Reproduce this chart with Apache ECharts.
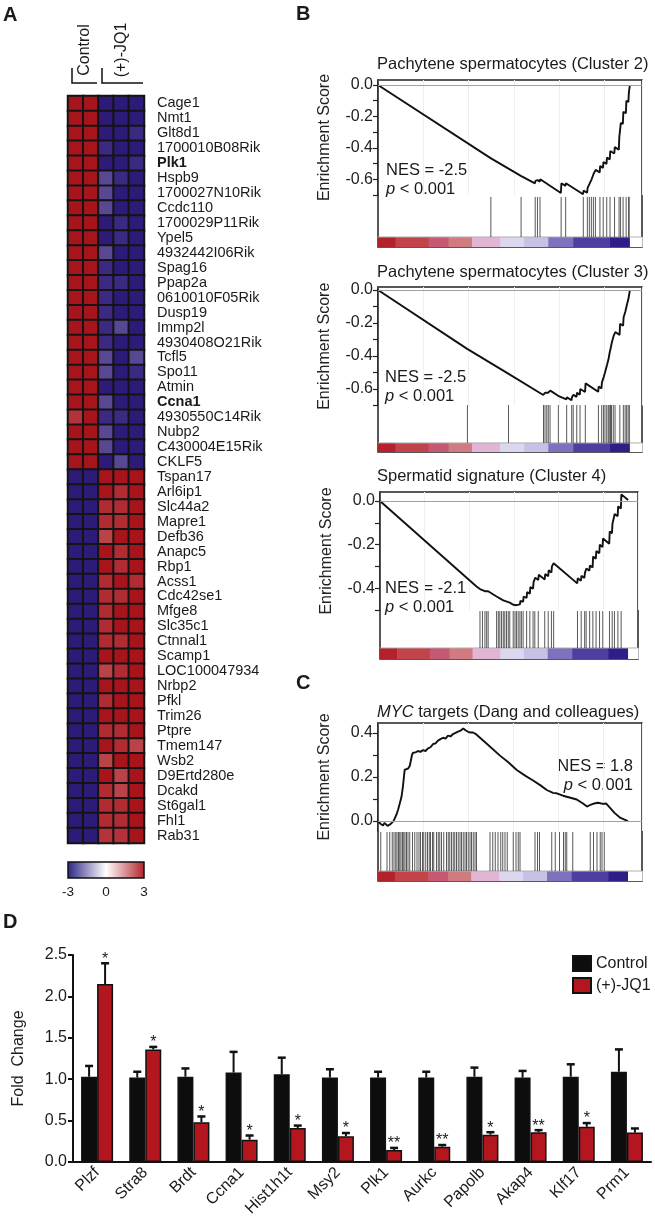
<!DOCTYPE html>
<html>
<head>
<meta charset="utf-8">
<script src="https://cdn.jsdelivr.net/npm/echarts@6/dist/echarts.min.js"></script>
<style>
html, body { margin: 0; padding: 0; background: #fff; }
#chart { width: 655px; height: 1225px; }
</style>
</head>
<body>
<div id="chart"></div>
<script>
// ---------- panel A: heatmap ----------
const genes = ['Cage1', 'Nmt1', 'Glt8d1', '1700010B08Rik', 'Plk1', 'Hspb9', '1700027N10Rik', 'Ccdc110',
  '1700029P11Rik', 'Ypel5', '4932442I06Rik', 'Spag16', 'Ppap2a', '0610010F05Rik', 'Dusp19', 'Immp2l',
  '4930408O21Rik', 'Tcfl5', 'Spo11', 'Atmin', 'Ccna1', '4930550C14Rik', 'Nubp2', 'C430004E15Rik', 'CKLF5',
  'Tspan17', 'Arl6ip1', 'Slc44a2', 'Mapre1', 'Defb36', 'Anapc5', 'Rbp1', 'Acss1', 'Cdc42se1', 'Mfge8',
  'Slc35c1', 'Ctnnal1', 'Scamp1', 'LOC100047934', 'Nrbp2', 'Pfkl', 'Trim26', 'Ptpre', 'Tmem147', 'Wsb2',
  'D9Ertd280e', 'Dcakd', 'St6gal1', 'Fhl1', 'Rab31']
const boldGenes = ['Plk1', 'Ccna1']
const sampleCols = ['Control 1', 'Control 2', 'JQ1 1', 'JQ1 2', 'JQ1 3']
const heatValues = [
  [3, 3, -3, -3, -3], [3, 3, -3, -3, -3], [3, 3, -3, -3, -2.8], [3, 3, -2.8, -3, -3],
  [3, 3, -3, -3, -2.8], [3, 3, -2.4, -2.8, -3], [3, 3, -2.4, -3, -3], [3, 3, -2.4, -3, -3],
  [3, 3, -3, -2.8, -3], [3, 3, -3, -2.8, -3], [3, 3, -2.4, -3, -3], [3, 3, -2.8, -3, -3],
  [3, 3, -2.8, -2.8, -3], [3, 3, -2.8, -3, -3], [3, 3, -2.8, -3, -3], [3, 3, -2.8, -2.4, -3],
  [3, 3, -2.8, -3, -3], [3, 3, -2.4, -3, -2.4], [3, 3, -2.4, -3, -2.8], [3, 3, -3, -3, -3],
  [3, 3, -2.4, -3, -3], [2.6, 3, -2.8, -2.8, -3], [3, 3, -2.4, -3, -3], [3, 3, -2.4, -3, -3],
  [3, 3, -3, -2.4, -3],
  [-3, -3, 3, 3, 3], [-3, -3, 3, 2.7, 3], [-3, -3, 2.7, 2.7, 3], [-3, -3, 2.7, 2.7, 3],
  [-3, -3, 2.4, 3, 3], [-3, -3, 3, 2.7, 3], [-3, -3, 3, 2.7, 3], [-3, -3, 2.7, 3, 2.7],
  [-3, -3, 2.7, 2.7, 3], [-3, -3, 2.7, 3, 3], [-3, -3, 2.7, 3, 3], [-3, -3, 2.7, 2.7, 3],
  [-3, -3, 3, 3, 3], [-3, -3, 2.4, 2.7, 3], [-3, -3, 3, 3, 3], [-3, -3, 2.7, 3, 3],
  [-3, -3, 3, 3, 3], [-3, -3, 2.7, 2.7, 3], [-3, -3, 3, 2.7, 2.4], [-3, -3, 2.4, 3, 3],
  [-3, -3, 3, 2.4, 3], [-3, -3, 2.7, 2.4, 3], [-3, -3, 2.7, 2.7, 3], [-3, -3, 2.7, 2.7, 3],
  [-3, -3, 2.6, 2.6, 3]
]
const heatTicks = ['-3', '0', '3']

// ---------- panels B / C: running enrichment scores [rank fraction, ES] ----------
const esCluster2 = [[0, 0], [0.447, -0.465], [0.449, -0.455], [0.567, -0.578], [0.569, -0.568],
  [0.623, -0.626], [0.625, -0.610], [0.632, -0.619], [0.634, -0.605], [0.642, -0.615], [0.644, -0.600],
  [0.726, -0.687], [0.728, -0.625], [0.744, -0.642], [0.746, -0.625], [0.814, -0.695], [0.816, -0.672],
  [0.830, -0.686], [0.832, -0.655], [0.838, -0.662], [0.840, -0.628], [0.846, -0.634], [0.848, -0.600],
  [0.854, -0.606], [0.856, -0.565], [0.862, -0.572], [0.864, -0.540], [0.880, -0.556], [0.882, -0.515],
  [0.893, -0.528], [0.895, -0.490], [0.907, -0.502], [0.909, -0.462], [0.920, -0.474], [0.922, -0.420],
  [0.938, -0.436], [0.940, -0.395], [0.956, -0.412], [0.958, -0.330], [0.962, -0.334], [0.964, -0.240],
  [0.972, -0.248], [0.974, -0.170], [0.984, -0.180], [0.986, -0.100], [0.994, -0.108], [0.996, -0.045],
  [0.998, -0.048], [1.0, 0.0]]
const hitsCluster2 = [0.448, 0.568, 0.624, 0.633, 0.643, 0.727, 0.745, 0.815, 0.831, 0.839, 0.847, 0.855,
  0.863, 0.881, 0.894, 0.908, 0.921, 0.939, 0.957, 0.963, 0.973, 0.985, 0.995, 0.997]

const esCluster3 = [[0, 0], [0.354, -0.357], [0.356, -0.345], [0.517, -0.507], [0.519, -0.498],
  [0.656, -0.636], [0.658, -0.628], [0.662, -0.632], [0.664, -0.622], [0.669, -0.627], [0.671, -0.618],
  [0.675, -0.623], [0.677, -0.614], [0.682, -0.619], [0.684, -0.610], [0.715, -0.641], [0.717, -0.630],
  [0.748, -0.663], [0.750, -0.650], [0.768, -0.668], [0.770, -0.650], [0.774, -0.655], [0.776, -0.635],
  [0.788, -0.648], [0.790, -0.622], [0.801, -0.635], [0.803, -0.600], [0.822, -0.618], [0.824, -0.566],
  [0.874, -0.617], [0.876, -0.585], [0.887, -0.596], [0.889, -0.560], [0.894, -0.566], [0.896, -0.528],
  [0.900, -0.532], [0.902, -0.495], [0.907, -0.500], [0.909, -0.455], [0.913, -0.459], [0.915, -0.420],
  [0.917, -0.423], [0.919, -0.385], [0.922, -0.389], [0.924, -0.350], [0.926, -0.353], [0.928, -0.320],
  [0.933, -0.325], [0.935, -0.280], [0.940, -0.286], [0.942, -0.255], [0.959, -0.272], [0.961, -0.205],
  [0.973, -0.217], [0.975, -0.165], [0.980, -0.170], [0.982, -0.130], [0.986, -0.134], [0.988, -0.090],
  [0.992, -0.094], [0.994, -0.055], [0.997, -0.058], [1.0, 0.0]]
const hitsCluster3 = [0.355, 0.518, 0.657, 0.663, 0.670, 0.676, 0.683, 0.716, 0.749, 0.769, 0.775, 0.789,
  0.802, 0.823, 0.875, 0.888, 0.895, 0.901, 0.908, 0.914, 0.918, 0.923, 0.927, 0.934, 0.941, 0.960, 0.974,
  0.981, 0.987, 0.993, 0.998]

const esCluster4 = [[0, 0], [0.389, -0.392], [0.403, -0.404], [0.405, -0.398], [0.423, -0.414],
  [0.425, -0.405], [0.436, -0.414], [0.438, -0.408], [0.470, -0.438], [0.497, -0.456], [0.523, -0.466],
  [0.537, -0.476], [0.550, -0.478], [0.557, -0.470], [0.564, -0.474], [0.566, -0.458], [0.577, -0.462],
  [0.579, -0.438], [0.591, -0.445], [0.593, -0.418], [0.604, -0.425], [0.606, -0.395], [0.617, -0.402],
  [0.619, -0.372], [0.624, -0.376], [0.626, -0.352], [0.638, -0.362], [0.640, -0.338], [0.664, -0.360],
  [0.666, -0.335], [0.678, -0.345], [0.680, -0.318], [0.691, -0.328], [0.693, -0.300], [0.698, -0.304],
  [0.700, -0.286], [0.795, -0.378], [0.797, -0.355], [0.810, -0.366], [0.812, -0.343], [0.824, -0.353],
  [0.826, -0.330], [0.830, -0.333], [0.832, -0.310], [0.844, -0.320], [0.846, -0.296], [0.857, -0.305],
  [0.859, -0.255], [0.870, -0.265], [0.872, -0.230], [0.884, -0.240], [0.886, -0.200], [0.897, -0.212],
  [0.899, -0.172], [0.924, -0.196], [0.926, -0.140], [0.935, -0.148], [0.937, -0.105], [0.944, -0.112],
  [0.946, -0.060], [0.958, -0.070], [0.960, -0.025], [0.971, -0.035], [0.973, 0.030], [1.0, 0.004]]
const hitsCluster4 = [0.403, 0.413, 0.423, 0.430, 0.436, 0.470, 0.477, 0.483, 0.490, 0.497, 0.503, 0.510,
  0.517, 0.523, 0.537, 0.544, 0.550, 0.557, 0.564, 0.570, 0.577, 0.591, 0.604, 0.617, 0.624, 0.638, 0.664,
  0.678, 0.691, 0.700, 0.796, 0.811, 0.825, 0.831, 0.845, 0.858, 0.871, 0.885, 0.898, 0.925, 0.936, 0.945,
  0.959, 0.972]

const esMyc = [[0, 0], [0.010, -0.012], [0.020, -0.020], [0.026, -0.008], [0.031, -0.010], [0.038, -0.022],
  [0.044, -0.028], [0.050, -0.014], [0.057, -0.018], [0.062, 0.000], [0.067, 0.012], [0.074, 0.030],
  [0.080, 0.050], [0.087, 0.080], [0.094, 0.110], [0.100, 0.160], [0.105, 0.215], [0.107, 0.233],
  [0.114, 0.240], [0.120, 0.238], [0.127, 0.250], [0.132, 0.258], [0.136, 0.300], [0.140, 0.310],
  [0.150, 0.312], [0.160, 0.318], [0.170, 0.314], [0.180, 0.322], [0.190, 0.318], [0.200, 0.330],
  [0.210, 0.335], [0.221, 0.350], [0.230, 0.352], [0.240, 0.365], [0.250, 0.372], [0.260, 0.378],
  [0.270, 0.374], [0.280, 0.388], [0.290, 0.384], [0.300, 0.395], [0.310, 0.400], [0.320, 0.406],
  [0.330, 0.410], [0.341, 0.420], [0.350, 0.412], [0.360, 0.405], [0.370, 0.402], [0.380, 0.402],
  [0.390, 0.396], [0.434, 0.352], [0.488, 0.297], [0.520, 0.268], [0.555, 0.232], [0.590, 0.205],
  [0.622, 0.183], [0.650, 0.162], [0.675, 0.141], [0.700, 0.128], [0.715, 0.126], [0.740, 0.115],
  [0.770, 0.106], [0.795, 0.098], [0.820, 0.080], [0.836, 0.066], [0.850, 0.074], [0.865, 0.080],
  [0.880, 0.083], [0.900, 0.078], [0.912, 0.080], [0.930, 0.058], [0.947, 0.036], [0.970, 0.014], [1.0, 0.0]]
const hitsMyc = [0.011, 0.036, 0.047, 0.057, 0.064, 0.071, 0.076, 0.082, 0.087, 0.092, 0.098, 0.103, 0.108,
  0.114, 0.120, 0.127, 0.138, 0.147, 0.156, 0.164, 0.170, 0.178, 0.183, 0.191, 0.198, 0.205, 0.210, 0.218,
  0.223, 0.234, 0.241, 0.247, 0.254, 0.263, 0.274, 0.281, 0.287, 0.294, 0.301, 0.307, 0.314, 0.321, 0.328,
  0.334, 0.341, 0.348, 0.354, 0.361, 0.368, 0.374, 0.381, 0.388, 0.394, 0.448, 0.459, 0.469, 0.480, 0.491,
  0.499, 0.508, 0.517, 0.541, 0.552, 0.561, 0.568, 0.628, 0.638, 0.646, 0.695, 0.709, 0.726, 0.742, 0.749,
  0.755, 0.779, 0.849, 0.862, 0.876, 0.889, 0.896, 0.905]

// ranked-list colour strip
const stripStops = [0, 0.069, 0.201, 0.280, 0.373, 0.485, 0.580, 0.676, 0.775, 0.921, 1.0]
const stripColors = ['#b3222c', '#c1444b', '#c55873', '#d07b80', '#e3b5d4', '#dcd6ee', '#c8c0e5',
  '#7c72bd', '#4f3ea0', '#2e1f88']

const esTicksNeg7 = [0, -0.1, -0.2, -0.3, -0.4, -0.5, -0.6, -0.7]
const esLabelsNeg6 = [0, -0.2, -0.4, -0.6]
const esTicksNeg5 = [0, -0.1, -0.2, -0.3, -0.4, -0.5]
const esLabelsNeg4 = [0, -0.2, -0.4]
const esTicksPos4 = [0, 0.1, 0.2, 0.3, 0.4]
const esLabelsPos4 = [0, 0.2, 0.4]

// ---------- panel D: qPCR ----------
const qpcrGenes = ['Plzf', 'Stra8', 'Brdt', 'Ccna1', 'Hist1h1t', 'Msy2', 'Plk1', 'Aurkc', 'Papolb', 'Akap4', 'Klf17', 'Prm1']
const ctrlMean = [1.03, 1.02, 1.03, 1.08, 1.06, 1.02, 1.02, 1.02, 1.03, 1.02, 1.03, 1.09]
const ctrlErr = [0.13, 0.07, 0.10, 0.25, 0.20, 0.10, 0.07, 0.07, 0.11, 0.08, 0.15, 0.27]
const jq1Mean = [2.15, 1.36, 0.48, 0.27, 0.41, 0.31, 0.145, 0.185, 0.33, 0.36, 0.425, 0.355]
const jq1Err = [0.25, 0.03, 0.07, 0.05, 0.03, 0.04, 0.025, 0.02, 0.03, 0.025, 0.045, 0.05]
const jq1Sig = ['*', '*', '*', '*', '*', '*', '**', '**', '*', '**', '*', '']
const foldTicks = [0, 0.5, 1.0, 1.5, 2.0, 2.5]

const FONT = '"Liberation Sans", Arial, sans-serif'
const INK = '#1a1a1a'
const FS = 16

const chart = echarts.init(document.getElementById('chart'), null, { renderer: 'canvas' })

const grid = [], xAxis = [], yAxis = [], series = [], graphic = []
function addGrid(g, xa, ya) {
  const i = grid.length
  grid.push(g)
  xAxis.push(Object.assign({ gridIndex: i }, xa))
  yAxis.push(Object.assign({ gridIndex: i }, ya))
  return i
}
function fmt1(v) { return Math.abs(v) < 1e-9 ? '0.0' : v.toFixed(1) }
function txt(text, x, y, size, opts) {
  graphic.push(Object.assign({
    type: 'text', x, y,
    style: Object.assign({ text, fontSize: size, fontFamily: FONT, fill: INK, align: 'left', verticalAlign: 'middle' },
      (opts && opts.style) || {})
  }, (opts && opts.el) || {}))
}

// heatmap
const heatData = []
heatValues.forEach((row, r) => row.forEach((v, c) => heatData.push([c, r, v])))
const hi = addGrid({ left: 68, top: 96, width: 76, height: 747, show: true, borderColor: '#111', borderWidth: 2 },
  { type: 'category', data: sampleCols, show: false },
  {
    type: 'category', data: genes, inverse: true, position: 'right',
    axisLine: { show: false }, axisTick: { show: false }, splitLine: { show: false },
    axisLabel: {
      interval: 0, margin: 13, fontSize: 14.5, color: INK, fontFamily: FONT,
      formatter: g => boldGenes.includes(g) ? '{b|' + g + '}' : g,
      rich: { b: { fontWeight: 'bold', fontSize: 14.5, fontFamily: FONT, color: INK } }
    }
  })
series.push({
  type: 'heatmap', xAxisIndex: hi, yAxisIndex: hi, data: heatData,
  itemStyle: { borderColor: '#141414', borderWidth: 2 }
})

// GSEA panels
const gsea = [
  { title: 'Pachytene spermatocytes (Cluster 2)', es: esCluster2, hits: hitsCluster2, left: 378, width: 264, xMax: 1.048,
    top: 80, frameH: 167, esH: 115, yMin: -0.7, yMax: 0.032, ticks: esTicksNeg7, labels: esLabelsNeg6,
    stripFrac: 0.06, hitsFrac: 0.30, titleY: 64, nesX: 386, nesY: 170, align: 'left', nes: 'NES = -2.5' },
  { title: 'Pachytene spermatocytes (Cluster 3)', es: esCluster3, hits: hitsCluster3, left: 378, width: 264, xMax: 1.048,
    top: 287, frameH: 165, esH: 118.5, yMin: -0.7, yMax: 0.018, ticks: esTicksNeg7, labels: esLabelsNeg6,
    stripFrac: 0.055, hitsFrac: 0.285, titleY: 272, nesX: 385, nesY: 377, align: 'left', nes: 'NES = -2.5' },
  { title: 'Spermatid signature (Cluster 4)', es: esCluster4, hits: hitsCluster4, left: 380, width: 258, xMax: 1.040,
    top: 492, frameH: 167, esH: 118, yMin: -0.5, yMax: 0.041, ticks: esTicksNeg5, labels: esLabelsNeg4,
    stripFrac: 0.066, hitsFrac: 0.287, titleY: 476, nesX: 385, nesY: 588, align: 'left', nes: 'NES = -2.1' },
  { title: '{i|MYC} targets (Dang and colleagues)', es: esMyc, hits: hitsMyc, left: 378, width: 264, xMax: 1.056,
    top: 723, frameH: 158, esH: 108, yMin: -0.045, yMax: 0.445, ticks: esTicksPos4, labels: esLabelsPos4,
    stripFrac: 0.063, hitsFrac: 0.31, titleY: 712, nesX: 633, nesY: 766, align: 'right', nes: 'NES = 1.8' }
]
const italic = { i: { fontStyle: 'italic', fontSize: 16.5, fontFamily: FONT, fill: INK } }

gsea.forEach(p => {
  const fi = addGrid({ left: p.left, top: p.top, width: p.width, height: p.frameH, show: true, borderColor: '#222', borderWidth: 1.5 },
    { type: 'value', min: 0, max: p.xMax, show: false },
    { type: 'value', min: 0, max: 1, show: false })
  const ei = addGrid({ left: p.left, top: p.top, width: p.width, height: p.esH },
    {
      type: 'value', min: 0, max: p.xMax, interval: 0.18,
      axisLine: { show: false }, axisTick: { show: false }, axisLabel: { show: false },
      splitLine: { show: true, lineStyle: { color: '#efefef', width: 1 } }
    },
    {
      type: 'value', min: p.yMin, max: p.yMax,
      axisLine: { show: true, lineStyle: { color: '#222', width: 1.5 } },
      axisTick: { show: true, customValues: p.ticks, length: 5, lineStyle: { color: '#222', width: 1.2 } },
      axisLabel: { customValues: p.labels, formatter: fmt1, fontSize: FS, color: '#222', fontFamily: FONT, margin: 5 },
      splitLine: { show: false },
      name: 'Enrichment Score', nameLocation: 'middle', nameGap: 45,
      nameTextStyle: { fontSize: FS, color: '#222', fontFamily: FONT }
    })
  series.push({
    type: 'line', xAxisIndex: ei, yAxisIndex: ei, data: p.es, showSymbol: false, z: 4,
    lineStyle: { color: '#111', width: 1.9 },
    markLine: { silent: true, symbol: 'none', label: { show: false }, lineStyle: { color: '#a0a0a0', width: 1, type: 'solid' }, data: [{ yAxis: 0 }] }
  })
  const segs = stripColors.map((c, i) => [stripStops[i], stripStops[i + 1], i])
  segs.push([1, p.xMax, -1])
  series.push({
    type: 'custom', xAxisIndex: fi, yAxisIndex: fi, data: segs, z: 2,
    renderItem: (params, api) => {
      const a = api.coord([api.value(0), p.stripFrac])
      const b = api.coord([api.value(1), 0])
      const ci = api.value(2)
      return {
        type: 'group', children: [
          { type: 'rect', shape: { x: a[0], y: a[1], width: b[0] - a[0] + 0.6, height: b[1] - a[1] }, style: { fill: ci < 0 ? '#fff' : stripColors[ci] } },
          { type: 'line', shape: { x1: a[0], y1: a[1], x2: b[0], y2: a[1] }, style: { stroke: '#b0b0b0', lineWidth: 1 } }
        ]
      }
    }
  })
  series.push({
    type: 'custom', xAxisIndex: fi, yAxisIndex: fi, data: p.hits.map(h => [h, 0]), z: 3,
    renderItem: (params, api) => {
      const a = api.coord([api.value(0), p.stripFrac])
      const b = api.coord([api.value(0), p.hitsFrac])
      return { type: 'line', shape: { x1: a[0], y1: a[1], x2: a[0], y2: b[1] }, style: { stroke: '#222', lineWidth: 1, opacity: 0.75 } }
    }
  })
  txt(p.title, 377, p.titleY, 16.5, { style: { rich: italic } })
  txt(p.nes, p.nesX, p.nesY, 16.5, { style: { align: p.align } })
  txt('{i|p} < 0.001', p.nesX, p.nesY + 19, 16.5, { style: { align: p.align, rich: italic } })
})

// bar chart
const bi = addGrid({ left: 73, top: 955, width: 578, height: 207 },
  {
    type: 'category', data: qpcrGenes,
    axisLine: { lineStyle: { color: '#111', width: 2 } }, axisTick: { show: false },
    axisLabel: { interval: 0, rotate: 45, fontSize: FS, color: INK, fontFamily: FONT, margin: 8 }
  },
  {
    type: 'value', min: 0, max: 2.5, interval: 0.5,
    axisLine: { show: true, lineStyle: { color: '#111', width: 2 } },
    axisTick: { show: true, length: 5, lineStyle: { color: '#111', width: 2 } },
    axisLabel: { formatter: fmt1, fontSize: FS, color: INK, fontFamily: FONT, margin: 6, customValues: foldTicks },
    splitLine: { show: false },
    name: 'Fold  Change', nameLocation: 'middle', nameGap: 46,
    nameTextStyle: { fontSize: FS, color: INK, fontFamily: FONT }
  })
const BAR_W = 16
series.push({
  type: 'bar', name: 'Control', xAxisIndex: bi, yAxisIndex: bi, data: ctrlMean, barWidth: BAR_W, barGap: '0%',
  itemStyle: { color: '#0d0d0d', borderColor: '#111', borderWidth: 1.5 }
})
series.push({
  type: 'bar', name: '(+)-JQ1', xAxisIndex: bi, yAxisIndex: bi, data: jq1Mean, barWidth: BAR_W, barGap: '0%',
  itemStyle: { color: '#b3161f', borderColor: '#111', borderWidth: 1.5 }
})
function errSeries(means, errs, offset, sig) {
  return {
    type: 'custom', xAxisIndex: bi, yAxisIndex: bi, z: 5,
    data: means.map((m, i) => [i, m, errs[i]]),
    renderItem: (params, api) => {
      const base = api.coord([api.value(0), api.value(1)])
      const top = api.coord([api.value(0), api.value(1) + api.value(2)])
      const x = base[0] + offset
      const children = [
        { type: 'line', shape: { x1: x, y1: base[1], x2: x, y2: top[1] }, style: { stroke: '#111', lineWidth: 2 } },
        { type: 'line', shape: { x1: x - 4, y1: top[1], x2: x + 4, y2: top[1] }, style: { stroke: '#111', lineWidth: 2.5 } }
      ]
      const s = sig ? sig[params.dataIndex] : ''
      if (s) children.push({ type: 'text', x, y: top[1] + 4, style: { text: s, align: 'center', verticalAlign: 'bottom', fontSize: 16, fontFamily: FONT, fill: INK } })
      return { type: 'group', children }
    }
  }
}
series.push(errSeries(ctrlMean, ctrlErr, -BAR_W / 2, null))
series.push(errSeries(jq1Mean, jq1Err, BAR_W / 2, jq1Sig))

// panel letters, heatmap headers, colour key
txt('A', 3, 15, 20, { style: { fontWeight: 'bold' } })
txt('B', 296, 14, 20, { style: { fontWeight: 'bold' } })
txt('C', 296, 683, 20, { style: { fontWeight: 'bold' } })
txt('D', 3, 922, 20, { style: { fontWeight: 'bold' } })
txt('Control', 85, 50, FS, { style: { align: 'center' }, el: { rotation: Math.PI / 2 } })
txt('(+)-JQ1', 122, 50, FS, { style: { align: 'center' }, el: { rotation: Math.PI / 2 } })
graphic.push({ type: 'polyline', shape: { points: [[72, 68], [72, 83], [97, 83]] }, style: { stroke: '#111', lineWidth: 1.5, fill: null } })
graphic.push({ type: 'polyline', shape: { points: [[102, 68], [102, 83], [143, 83]] }, style: { stroke: '#111', lineWidth: 1.5, fill: null } })
graphic.push({
  type: 'rect', shape: { x: 68, y: 862, width: 76, height: 16 },
  style: {
    stroke: '#111', lineWidth: 1.5,
    fill: new echarts.graphic.LinearGradient(0, 0, 1, 0, [
      { offset: 0, color: '#2b2486' }, { offset: 0.5, color: '#ffffff' }, { offset: 1, color: '#b2222b' }])
  }
})
heatTicks.forEach((t, i) => txt(t, 68 + i * 38, 892, 13.5, { style: { align: 'center' } }))

chart.setOption({
  animation: false,
  backgroundColor: '#fff',
  textStyle: { fontFamily: FONT },
  grid, xAxis, yAxis, series, graphic,
  visualMap: {
    type: 'continuous', show: false, min: -3, max: 3, seriesIndex: 0,
    inRange: { color: ['#2e1a78', '#ffffff', '#a8141c'] }
  },
  legend: {
    data: ['Control', '(+)-JQ1'], orient: 'vertical', left: 567, top: 950, selectedMode: false,
    icon: 'rect', itemWidth: 18, itemHeight: 15, itemGap: 5,
    textStyle: { fontSize: FS, color: INK, fontFamily: FONT }
  }
})
</script>
</body>
</html>
